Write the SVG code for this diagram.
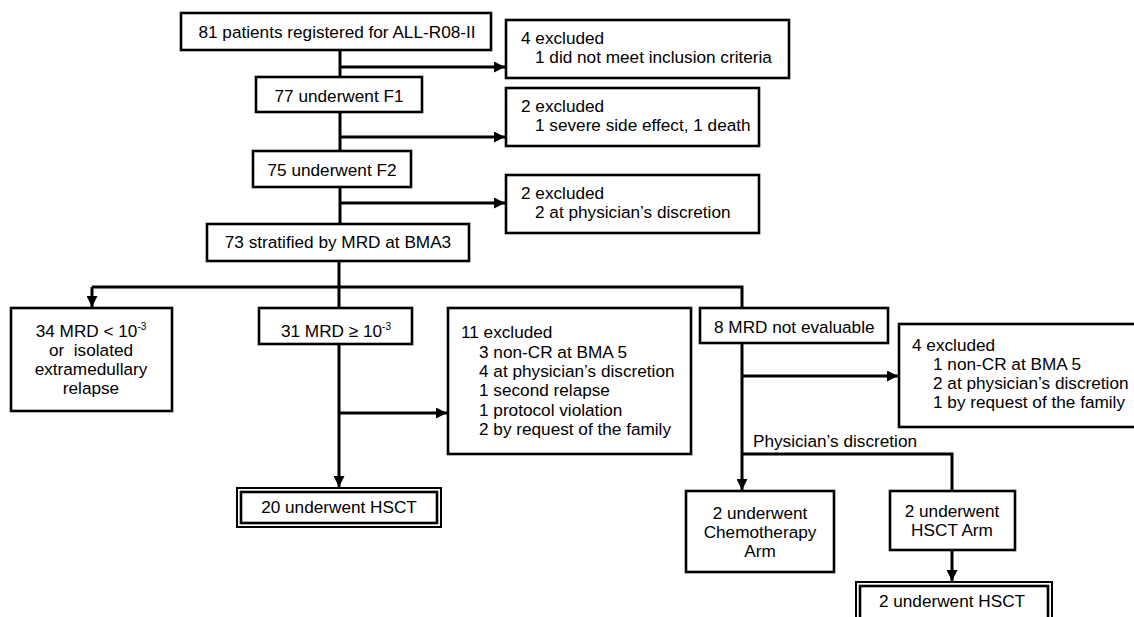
<svg xmlns="http://www.w3.org/2000/svg" width="1134" height="617" viewBox="0 0 1134 617">
<style>
.b{fill:#fff;stroke:#000;stroke-width:2.6}
.d{fill:none;stroke:#000;stroke-width:2}
.t{font-family:"Liberation Sans",Arial,sans-serif;font-size:17.2px;fill:#000}
.c{text-anchor:middle}
.l{fill:none;stroke:#000;stroke-width:3}
.sup{font-size:10px}
</style>
<defs>
<marker id="ah" markerUnits="userSpaceOnUse" markerWidth="11" markerHeight="11" refX="11" refY="5.5" orient="auto">
<path d="M0,0 L11,5.5 L0,11 z" fill="#000"/>
</marker>
</defs>
<rect width="1134" height="617" fill="#fff"/>
<g id="connectors">
<path class="l" d="M340,50 V77 M340,112 V151 M340,187 V224"/>
<path class="l" d="M340,67 H505" marker-end="url(#ah)"/>
<path class="l" d="M340,137 H505" marker-end="url(#ah)"/>
<path class="l" d="M340,203 H505" marker-end="url(#ah)"/>
<path class="l" d="M339,261 V308 M92,287 H742 V308"/>
<path class="l" d="M92,287 V307" marker-end="url(#ah)"/>
<path class="l" d="M339,344 V487" marker-end="url(#ah)"/>
<path class="l" d="M339,413 H447" marker-end="url(#ah)"/>
<path class="l" d="M742,343 V490" marker-end="url(#ah)"/>
<path class="l" d="M742,376 H898" marker-end="url(#ah)"/>
<path class="l" d="M742,454 H952 V491"/>
<path class="l" d="M952,550 V581" marker-end="url(#ah)"/>
</g>
<g id="n81"><rect class="b" x="181" y="13" width="310" height="37"/><text class="t c" x="337" y="37.5">81 patients registered for ALL-R08-II</text></g>
<g id="ex4a"><rect class="b" x="506" y="20" width="283" height="58"/><text class="t" x="521" y="44">4 excluded</text><text class="t" x="535" y="63">1 did not meet inclusion criteria</text></g>
<g id="n77"><rect class="b" x="256" y="77" width="166" height="35"/><text class="t c" x="339" y="101.5">77 underwent F1</text></g>
<g id="ex2a"><rect class="b" x="506" y="88" width="253" height="58"/><text class="t" x="521" y="112">2 excluded</text><text class="t" x="535" y="131">1 severe side effect, 1 death</text></g>
<g id="n75"><rect class="b" x="253" y="151" width="158" height="36"/><text class="t c" x="332" y="175.5">75 underwent F2</text></g>
<g id="ex2b"><rect class="b" x="506" y="175" width="253" height="58"/><text class="t" x="521" y="199">2 excluded</text><text class="t" x="535" y="218">2 at physician’s discretion</text></g>
<g id="n73"><rect class="b" x="207" y="224" width="262" height="37"/><text class="t c" x="338" y="248">73 stratified by MRD at BMA3</text></g>
<g id="n34"><rect class="b" x="11" y="308" width="161" height="103"/>
<text class="t c" x="91" y="337">34 MRD &lt; 10<tspan class="sup" dy="-7">-3</tspan></text>
<text class="t c" x="91" y="356" xml:space="preserve">or  isolated</text>
<text class="t c" x="91" y="375">extramedullary</text>
<text class="t c" x="91" y="394">relapse</text></g>
<g id="n31"><rect class="b" x="259" y="308" width="153" height="36"/><text class="t c" x="336" y="337">31 MRD ≥ 10<tspan class="sup" dy="-7">-3</tspan></text></g>
<g id="ex11"><rect class="b" x="448" y="308" width="243" height="146"/>
<text class="t" x="461" y="338">11 excluded</text>
<text class="t" x="479" y="358">3 non-CR at BMA 5</text>
<text class="t" x="479" y="377">4 at physician’s discretion</text>
<text class="t" x="479" y="396">1 second relapse</text>
<text class="t" x="479" y="416">1 protocol violation</text>
<text class="t" x="479" y="435">2 by request of the family</text></g>
<g id="n8"><rect class="b" x="700" y="308" width="188" height="35"/><text class="t" x="714" y="332.5">8 MRD not evaluable</text></g>
<g id="ex4b"><rect class="b" x="899" y="324" width="250" height="103"/>
<text class="t" x="912" y="351">4 excluded</text>
<text class="t" x="933" y="370">1 non-CR at BMA 5</text>
<text class="t" x="933" y="389">2 at physician’s discretion</text>
<text class="t" x="933" y="408">1 by request of the family</text></g>
<g id="lbl"><text class="t" x="753" y="447">Physician’s discretion</text></g>
<g id="n20"><rect class="d" x="237" y="488" width="204" height="39"/><rect class="b" x="241" y="492" width="196" height="31"/><text class="t c" x="339" y="513">20 underwent HSCT</text></g>
<g id="chemo"><rect class="b" x="686" y="491" width="148" height="81"/>
<text class="t c" x="760" y="519">2 underwent</text>
<text class="t c" x="760" y="538">Chemotherapy</text>
<text class="t c" x="760" y="557">Arm</text></g>
<g id="hsctarm"><rect class="b" x="890" y="491" width="125" height="59"/>
<text class="t c" x="952" y="517">2 underwent</text>
<text class="t c" x="952" y="536">HSCT Arm</text></g>
<g id="n2hsct"><rect class="d" x="856" y="582" width="196" height="60"/><rect class="b" x="860" y="586" width="188" height="52"/><text class="t c" x="952" y="607">2 underwent HSCT</text></g>
</svg>
